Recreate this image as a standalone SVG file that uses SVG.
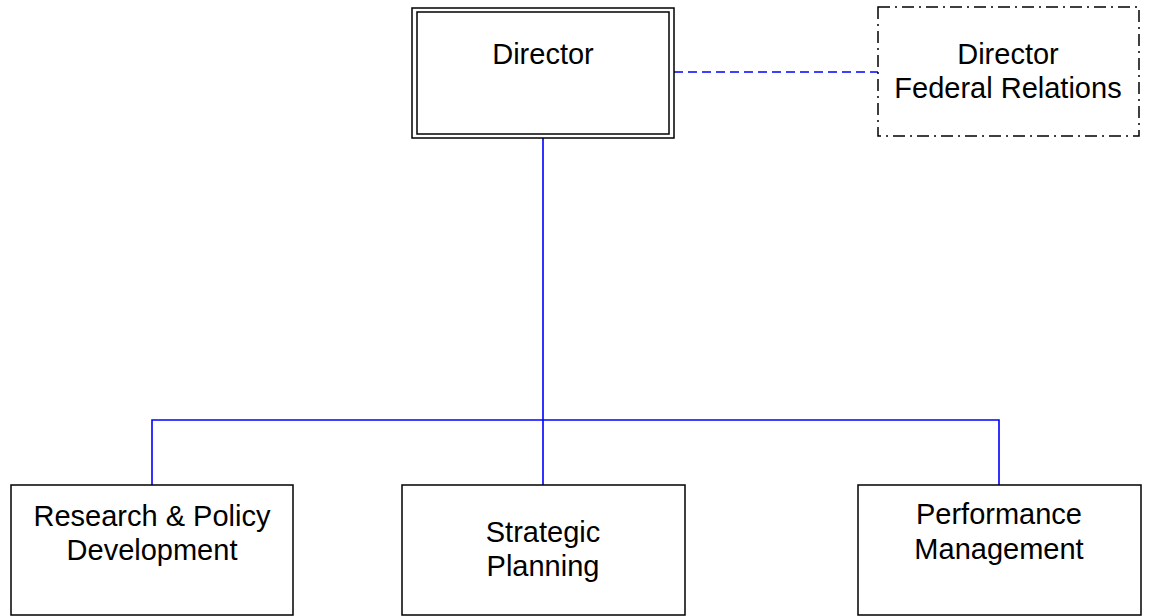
<svg xmlns="http://www.w3.org/2000/svg" width="1149" height="616" viewBox="0 0 1149 616">
<style>
.box{fill:#fff;stroke:#000;stroke-width:1.5}
.t{font-family:"Liberation Sans",Arial,sans-serif;font-size:29px;fill:#000;text-anchor:middle}
.c{fill:none;stroke:#0000ff;stroke-width:1.6}
</style>
<rect width="1149" height="616" fill="#fff"/>
<g id="connectors">
<path class="c" d="M543 138V485M152 485V420H999V485"/>
<path class="c" d="M674 72H878" stroke-dasharray="9 5"/>
</g>
<g id="director">
<rect class="box" x="412" y="8" width="262" height="130"/>
<rect class="box" x="417" y="12" width="252" height="122"/>
<text class="t" x="543" y="64">Director</text>
</g>
<g id="fedrel">
<rect x="878" y="7" width="261" height="129" fill="#fff" stroke="#000" stroke-width="1.5" stroke-dasharray="12 5 2 5"/>
<text class="t" x="1008" y="64">Director</text>
<text class="t" x="1008" y="98">Federal Relations</text>
</g>
<g id="research">
<rect class="box" x="11" y="485" width="282" height="130"/>
<text class="t" x="152" y="526">Research &amp; Policy</text>
<text class="t" x="152" y="560">Development</text>
</g>
<g id="strategic">
<rect class="box" x="402" y="485" width="283" height="130"/>
<text class="t" x="543" y="542">Strategic</text>
<text class="t" x="543" y="576">Planning</text>
</g>
<g id="performance">
<rect class="box" x="858" y="485" width="283" height="130"/>
<text class="t" x="999" y="524">Performance</text>
<text class="t" x="999" y="559">Management</text>
</g>
</svg>
